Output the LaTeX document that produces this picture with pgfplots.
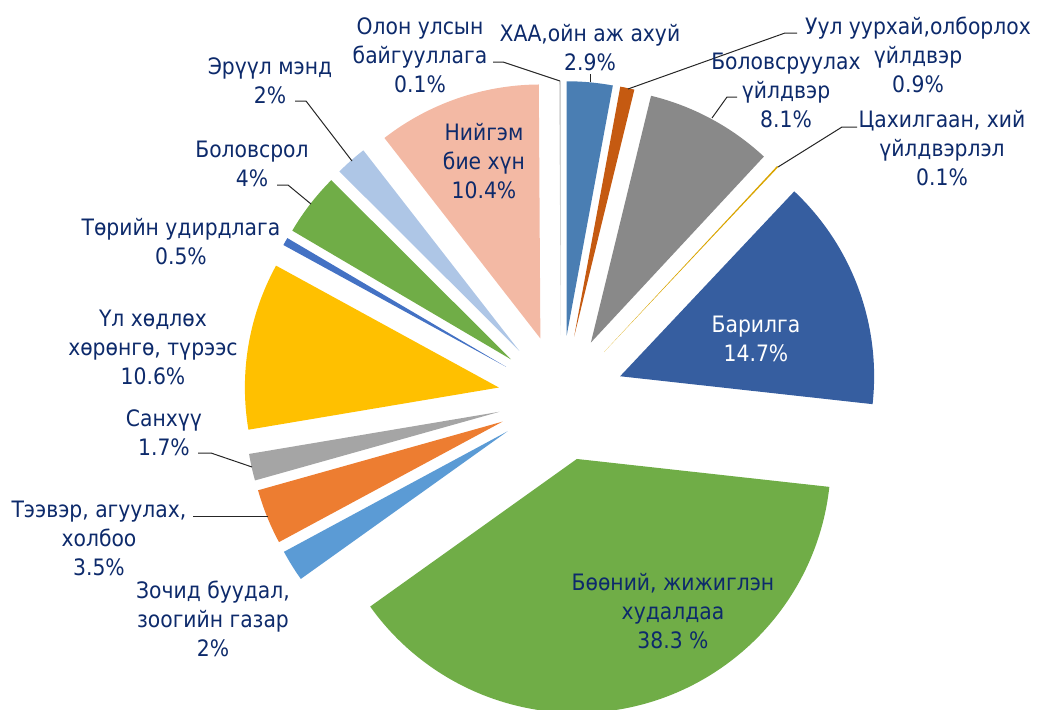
\documentclass[border=0pt]{standalone}
\usepackage{pgfplots}
\pgfplotsset{compat=1.18}
\usepackage{pgfplotstable}
\usepackage{fontspec}
\setmainfont{DejaVu Sans Condensed}
\definecolor{txt}{HTML}{0D2A6B}
\definecolor{cA}{HTML}{4A7EB3}
\definecolor{cB}{HTML}{C55A11}
\definecolor{cC}{HTML}{898989}
\definecolor{cD}{HTML}{D9A400}
\definecolor{cE}{HTML}{365EA0}
\definecolor{cF}{HTML}{70AD47}
\definecolor{cG}{HTML}{5B9BD5}
\definecolor{cH}{HTML}{ED7D31}
\definecolor{cI}{HTML}{A5A5A5}
\definecolor{cJ}{HTML}{FFC000}
\definecolor{cK}{HTML}{4472C4}
\definecolor{cL}{HTML}{70AD47}
\definecolor{cM}{HTML}{AEC6E6}
\definecolor{cN}{HTML}{F3B9A4}
\definecolor{cO}{HTML}{D0D0D0}
\pgfplotstableread[col sep=comma]{
value,color
2.9,cA
0.9,cB
8.1,cC
0.1,cD
14.7,cE
38.3,cF
2,cG
3.5,cH
1.7,cI
10.6,cJ
0.5,cK
4,cL
2,cM
10.4,cN
0.1,cO
}\pietable
\tikzset{lbl/.style={align=center,inner sep=0pt,text=txt,font=\fontsize{11.3}{14.5}\selectfont},
  ldr/.style={black!85,line width=0.5pt}}
\begin{document}
\begin{tikzpicture}
\begin{axis}[x=0.5pt,y=0.5pt,xmin=0,xmax=1039,ymin=0,ymax=709,hide axis,clip=false]
\pgfplotstablegetrowsof{\pietable}
\pgfmathtruncatemacro\N{\pgfplotsretval-1}
\def\tot{0}
\pgfplotsforeachungrouped \i in {0,...,\N}{%
  \pgfplotstablegetelem{\i}{value}\of\pietable
  \pgfmathsetmacro\tot{\tot+\pgfplotsretval}%
}
\def\cum{0}
\pgfplotsforeachungrouped \i in {0,...,\N}{%
  \pgfplotstablegetelem{\i}{value}\of\pietable \let\v\pgfplotsretval
  \pgfplotstablegetelem{\i}{color}\of\pietable \let\c\pgfplotsretval
  \pgfmathsetmacro\a{90-\cum/\tot*360}%
  \pgfmathsetmacro\b{90-(\cum+\v)/\tot*360}%
  \pgfmathsetmacro\m{(\a+\b)/2}%
  \pgfmathsetmacro\px{561+63*cos(\m)}%
  \pgfmathsetmacro\py{311+63*sin(\m)}%
  \edef\tmp{\noexpand\fill[\c] (axis cs:\px,\py) -- ++(\a:127pt) arc[start angle=\a, end angle=\b, radius=127pt] -- cycle;}%
  \tmp
  \pgfmathsetmacro\cum{\cum+\v}%
}
% leader lines
\draw[ldr] (axis cs:493,647) -- (axis cs:503,647) -- (axis cs:560,628);
\draw[ldr] (axis cs:590,635) -- (axis cs:590,627);
\draw[ldr] (axis cs:797,676) -- (axis cs:785,676) -- (axis cs:628,620);
\draw[ldr] (axis cs:737,612) -- (axis cs:727,612) -- (axis cs:712,591);
\draw[ldr] (axis cs:857,582) -- (axis cs:842,582) -- (axis cs:778,542);
\draw[ldr] (axis cs:193,193) -- (axis cs:268,193);
\draw[ldr] (axis cs:198,256) -- (axis cs:211,256) -- (axis cs:252,242);
\draw[ldr] (axis cs:277,524) -- (axis cs:288,524) -- (axis cs:311,505);
\draw[ldr] (axis cs:295,608) -- (axis cs:306,608) -- (axis cs:352,548);
% labels
\node[lbl] at (axis cs:420,654) {Олон улсын\\байгууллага\\0.1\%};
\node[lbl] at (axis cs:590,661) {ХАА,ойн аж ахуй\\2.9\%};
\node[lbl] at (axis cs:918,654) {Уул уурхай,олборлох\\үйлдвэр\\0.9\%};
\node[lbl] at (axis cs:786,619) {Боловсруулах\\үйлдвэр\\8.1\%};
\node[lbl] at (axis cs:942,561) {Цахилгаан, хий\\үйлдвэрлэл\\0.1\%};
\node[lbl,text=white] at (axis cs:756,370) {Барилга\\14.7\%};
\node[lbl] at (axis cs:673,98) {Бөөний, жижиглэн\\худалдаа\\38.3 \%};
\node[lbl] at (axis cs:213,90) {Зочид буудал,\\зоогийн газар\\2\%};
\node[lbl] at (axis cs:99,171) {Тээвэр, агуулах,\\холбоо\\3.5\%};
\node[lbl] at (axis cs:164,276) {Санхүү\\1.7\%};
\node[lbl] at (axis cs:153,362) {Үл хөдлөх\\хөрөнгө, түрээс\\10.6\%};
\node[lbl] at (axis cs:181,467) {Төрийн удирдлага\\0.5\%};
\node[lbl] at (axis cs:252,545) {Боловсрол\\4\%};
\node[lbl] at (axis cs:270,628) {Эрүүл мэнд\\2\%};
\node[lbl] at (axis cs:484,548) {Нийгэм\\бие хүн\\10.4\%};
\end{axis}
\pgfresetboundingbox
\useasboundingbox (0,0) rectangle (519.5pt,354.5pt);
\end{tikzpicture}
\end{document}
